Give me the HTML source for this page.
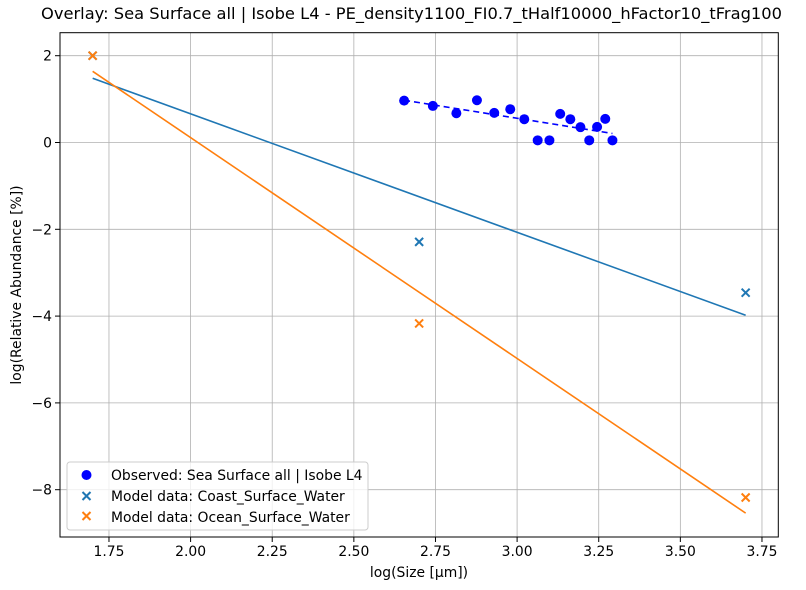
<!DOCTYPE html>
<html><head><meta charset="utf-8"><style>
body{margin:0;background:#fff;}
svg{display:block;font-family:"DejaVu Sans","Liberation Sans",sans-serif;}
</style></head><body>
<svg id="chart" width="806" height="590" viewBox="0 0 806 590">
<rect width="806" height="590" fill="#fff"/>
<g id="grid"></g>
<g id="marks"></g>
<rect x="60" y="32.7" width="718.3" height="504.3" fill="none" stroke="#000" stroke-width="1"/>
<g id="ticks"></g>
<text x="41" y="19" font-size="16" textLength="741" lengthAdjust="spacingAndGlyphs">Overlay: Sea Surface all | Isobe L4 - PE_density1100_FI0.7_tHalf10000_hFactor10_tFrag100</text>
<text x="419" y="577" font-size="13.9" text-anchor="middle">log(Size [µm])</text>
<text x="21" y="285" font-size="13.9" text-anchor="middle" transform="rotate(-90 21 285)">log(Relative Abundance [%])</text>
<g>
<rect x="67" y="462" width="301" height="68" rx="3" fill="#fff" fill-opacity="0.8" stroke="#ccc"/>
<circle cx="86.5" cy="475" r="5" fill="#0000ff"/>
<text x="111" y="480" font-size="13.9">Observed: Sea Surface all | Isobe L4</text>
<path d="M82.5 492 l8 8 M90.5 492 l-8 8" stroke="#1f77b4" stroke-width="2"/>
<text x="111" y="501" font-size="13.9">Model data: Coast_Surface_Water</text>
<path d="M82.5 512 l8 8 M90.5 512 l-8 8" stroke="#ff7f0e" stroke-width="2"/>
<text x="111" y="522" font-size="13.9">Model data: Ocean_Surface_Water</text>
</g>
</svg>
<script>
const obsX=[2.654,2.742,2.814,2.877,2.930,2.979,3.022,3.063,3.099,3.132,3.163,3.194,3.221,3.245,3.270,3.292];
const obsY=[0.965,0.843,0.675,0.974,0.682,0.767,0.537,0.05,0.05,0.66,0.537,0.353,0.05,0.36,0.544,0.05];
const modelX=[1.7,2.7,3.7];
const coastY=[2.0,-2.29,-3.46];
const oceanY=[2.0,-4.17,-8.18];
const xTicks=[1.75,2.0,2.25,2.5,2.75,3.0,3.25,3.5,3.75];
const xTickLabels=["1.75","2.00","2.25","2.50","2.75","3.00","3.25","3.50","3.75"];
const yTicks=[2,0,-2,-4,-6,-8];
const yTickLabels=["2","0","\u22122","\u22124","\u22126","\u22128"];

const X0=60,X1=778.3,Y0=32.7,Y1=537;
const xMin=1.6,xMax=3.8,yMin=-9.09,yMax=2.53;
function sx(v){return X0+(v-xMin)/(xMax-xMin)*(X1-X0);}
function sy(v){return Y1-(v-yMin)/(yMax-yMin)*(Y1-Y0);}
const NS="http://www.w3.org/2000/svg";
function mk(tag,attrs,parent){const e=document.createElementNS(NS,tag);for(const k in attrs)e.setAttribute(k,attrs[k]);parent.appendChild(e);return e;}
function fit(xs,ys){const n=xs.length;let mx=0,my=0;for(let i=0;i<n;i++){mx+=xs[i];my+=ys[i];}mx/=n;my/=n;let sxy=0,sxx=0;for(let i=0;i<n;i++){sxy+=(xs[i]-mx)*(ys[i]-my);sxx+=(xs[i]-mx)**2;}const b=sxy/sxx;return [b,my-b*mx];}
const grid=document.getElementById('grid'),marks=document.getElementById('marks'),ticks=document.getElementById('ticks');
xTicks.forEach((t,i)=>{
  const g=mk('line',{x1:sx(t),x2:sx(t),y1:Y0,y2:Y1,stroke:'#b0b0b0','stroke-width':0.8},grid);
  
  
  const tk=mk('line',{x1:sx(t),x2:sx(t),y1:Y1,y2:Y1+5,stroke:'#000'},ticks);
  
  
  const tl=mk('text',{x:sx(t),y:Y1+19,'font-size':13.9,'text-anchor':'middle'},ticks);
  tl.textContent=xTickLabels[i];
  
  
});
yTicks.forEach((t,i)=>{
  const g=mk('line',{x1:X0,x2:X1,y1:sy(t),y2:sy(t),stroke:'#b0b0b0','stroke-width':0.8},grid);
  
  
  const tk=mk('line',{x1:X0-5,x2:X0,y1:sy(t),y2:sy(t),stroke:'#000'},ticks);
  
  
  const tl=mk('text',{x:X0-8,y:sy(t)+5,'font-size':13.9,'text-anchor':'end'},ticks);
  tl.textContent=yTickLabels[i];
  
  
});
function fitLine(xs,ys,color,name,dash){
  const [b,a]=fit(xs,ys);const x1=Math.min(...xs),x2=Math.max(...xs);
  const l=mk('line',{x1:sx(x1),y1:sy(a+b*x1),x2:sx(x2),y2:sy(a+b*x2),stroke:color,'stroke-width':1.6},marks);
  if(dash)l.setAttribute('stroke-dasharray',dash);
  
  
}
fitLine(modelX,coastY,'#1f77b4','coast-fit-line');
fitLine(modelX,oceanY,'#ff7f0e','ocean-fit-line');
function crosses(ys,color,name){
  modelX.forEach((x,i)=>{
    const cx=sx(x),cy=sy(ys[i]);
    const p=mk('path',{d:`M${cx-4} ${cy-4} L${cx+4} ${cy+4} M${cx+4} ${cy-4} L${cx-4} ${cy+4}`,stroke:color,'stroke-width':2},marks);
    
    
  });
}
crosses(coastY,'#1f77b4','coast-marker');
crosses(oceanY,'#ff7f0e','ocean-marker');
obsX.forEach((x,i)=>{
  const c=mk('circle',{cx:sx(x),cy:sy(obsY[i]),r:5,fill:'#0000ff'},marks);
  
  
});
fitLine(obsX,obsY,'#0000ff','observed-trend-line','6,4');
</script>
</body></html>
